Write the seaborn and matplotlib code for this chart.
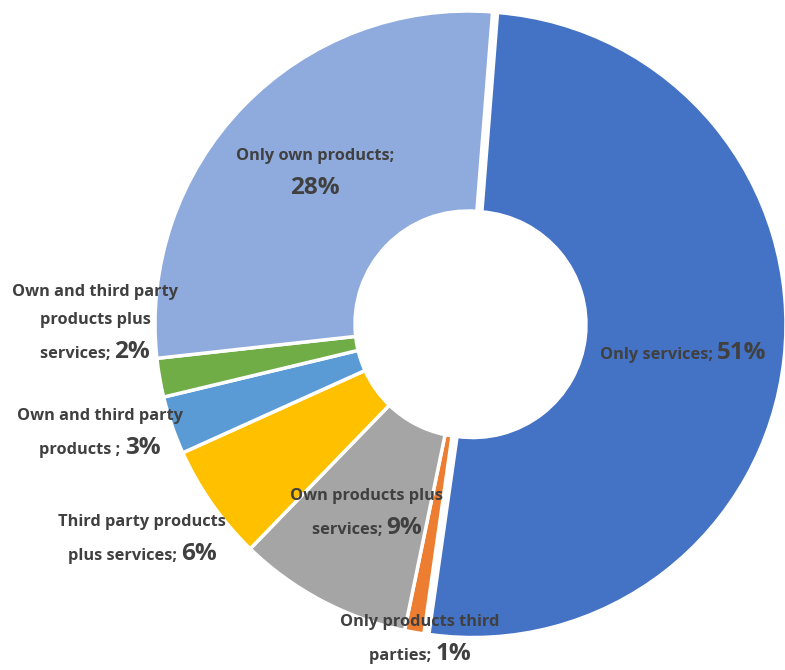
import matplotlib
matplotlib.use("Agg")
import matplotlib.pyplot as plt
import seaborn as sns
from matplotlib.offsetbox import TextArea, HPacker, VPacker, AnnotationBbox

# Share of companies by offering type (percent), clockwise from the top
categories = [
    "Only services",
    "Only products third parties",
    "Own products plus services",
    "Third party products plus services",
    "Own and third party products",
    "Own and third party products plus services",
    "Only own products",
]
shares = [51, 1, 9, 6, 3, 2, 28]

# Label text, split into lines; the percentage follows the last line
label_lines = [
    ["Only services; "],
    ["Only products third", "parties; "],
    ["Own products plus", "services; "],
    ["Third party products", "plus services; "],
    ["Own and third party", "products ; "],
    ["Own and third party", "products plus", "services; "],
    ["Only own products;", ""],
]

colors = ["#4472C4", "#ED7D31", "#A5A5A5", "#FFC000", "#5B9BD5", "#70AD47", "#8FAADC"]

# Label block centres in figure pixels (x from left, y from top)
label_pos = [(683, 353), (420, 640), (367, 514), (142, 540),
             (100, 434), (95, 324), (315, 174)]

W, H = 785, 670
CX, CY, R = 468, 324, 313

sns.set_theme(style="white")
plt.rcParams["font.family"] = ["Open Sans", "DejaVu Sans"]

fig = plt.figure(figsize=(W / 100, H / 100), dpi=100)
ax = fig.add_axes([0, 0, 1, 1])

explode = [0.016 if c == "Only services" else 0 for c in categories]
wedges, _ = ax.pie(
    shares,
    colors=colors,
    startangle=85.5,
    counterclock=False,
    radius=1,
    explode=explode,
    wedgeprops=dict(width=0.639, edgecolor="white", linewidth=2.5),
)
ax.set_aspect("auto")
ax.set_xlim(-CX / R, (W - CX) / R)
ax.set_ylim(-(H - CY) / R, CY / R)
ax.axis("off")

TXT = "#404040"
small = dict(color=TXT, fontsize=11.8, fontweight="bold")
big = dict(color=TXT, fontsize=17.5, fontweight="bold")

for lines, val, (px, py) in zip(label_lines, shares, label_pos):
    rows = []
    for ln in lines[:-1]:
        rows.append(TextArea(ln, textprops=small))
    last = lines[-1]
    pct = TextArea(f"{val}%", textprops=big)
    if last:
        rows.append(HPacker(children=[TextArea(last, textprops=small), pct],
                            align="baseline", pad=0, sep=0))
    else:
        rows.append(pct)
    box = VPacker(children=rows, align="center", pad=0, sep=8.5)
    ab = AnnotationBbox(box, (px / W, 1 - py / H), xycoords="axes fraction",
                        frameon=False, box_alignment=(0.5, 0.5), pad=0)
    ax.add_artist(ab)

fig.savefig("out.png", dpi=100, facecolor="white")
